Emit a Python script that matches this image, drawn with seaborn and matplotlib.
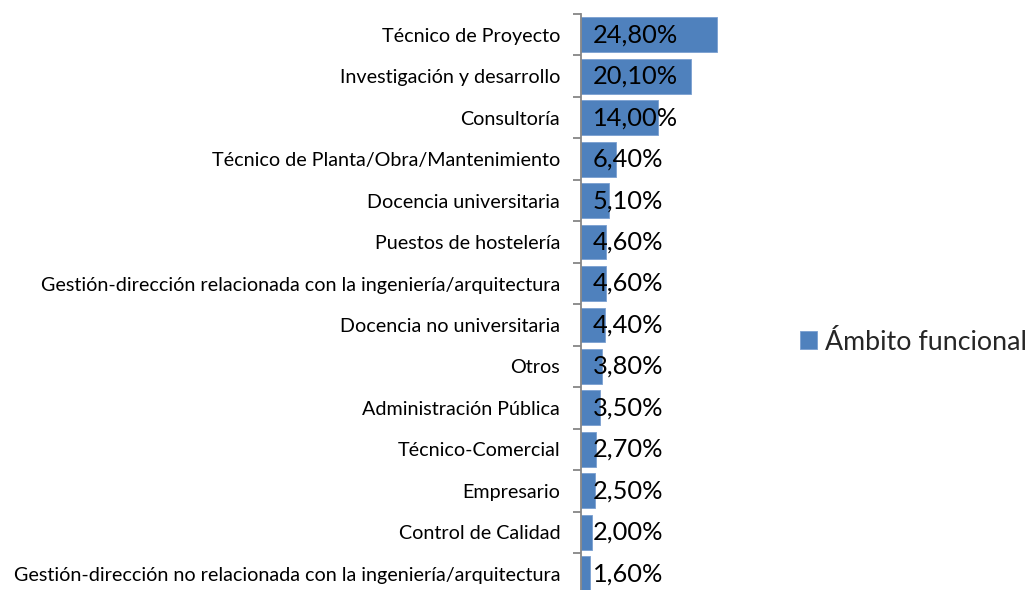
import matplotlib
matplotlib.use("Agg")
import matplotlib.pyplot as plt
import seaborn as sns
import pandas as pd
from matplotlib.ticker import FixedLocator

categorias = [
    "Técnico de Proyecto",
    "Investigación y desarrollo",
    "Consultoría",
    "Técnico de Planta/Obra/Mantenimiento",
    "Docencia universitaria",
    "Puestos de hostelería",
    "Gestión-dirección relacionada con la ingeniería/arquitectura",
    "Docencia no universitaria",
    "Otros",
    "Administración Pública",
    "Técnico-Comercial",
    "Empresario",
    "Control de Calidad",
    "Gestión-dirección no relacionada con la ingeniería/arquitectura",
]
valores = [24.8, 20.1, 14.0, 6.4, 5.1, 4.6, 4.6, 4.4, 3.8, 3.5, 2.7, 2.5, 2.0, 1.6]
serie = "Ámbito funcional"

df = pd.DataFrame({"cat": categorias, "valor": valores, "serie": serie})

sns.set_theme(style="white")
plt.rcParams["font.family"] = ["Lato", "DejaVu Sans"]

W, H = 1035, 590
fig = plt.figure(figsize=(W / 100, H / 100), dpi=100)
px = 5.48  # pixels per percent
left, top, bottom_px = 581, 14, 594.5
xmax = 30
ax = fig.add_axes([left / W, (H - bottom_px) / H, xmax * px / W, (bottom_px - top) / H])

sns.barplot(data=df, x="valor", y="cat", hue="serie", palette=["#4F81BD"],
            saturation=1, orient="h", width=0.84, ax=ax,
            edgecolor="#7A9FD0", linewidth=0.6)

ax.set_xlim(0, xmax)
ax.set_ylim(len(categorias) - 0.5, -0.5)
ax.set_xlabel("")
ax.set_ylabel("")
ax.set_xticks([])
for s in ["top", "right", "bottom"]:
    ax.spines[s].set_visible(False)
ax.spines["left"].set_color("#868686")
ax.spines["left"].set_linewidth(1.3)

ax.yaxis.set_minor_locator(FixedLocator([i - 0.5 for i in range(len(categorias) + 1)]))
ax.tick_params(axis="y", which="major", length=0, pad=15, labelsize=14.2, labelcolor="black")
ax.tick_params(axis="y", which="minor", length=6, width=1.3, color="#868686", left=True)

for i, v in enumerate(valores):
    ax.annotate(f"{v:.2f}".replace(".", ",") + "%", xy=(0, i), xytext=(8.5, 0),
                textcoords="offset points", ha="left", va="center",
                fontsize=18.3, color="black")

handles, labels = ax.get_legend_handles_labels()
ax.legend(handles, labels, loc="center left", bbox_to_anchor=(800 / W, 1 - 342 / H),
          bbox_transform=fig.transFigure, frameon=False, fontsize=19.3,
          handlelength=0.65, handleheight=0.65, handletextpad=0.28,
          borderpad=0, borderaxespad=0)

fig.savefig("out.png", dpi=100)
